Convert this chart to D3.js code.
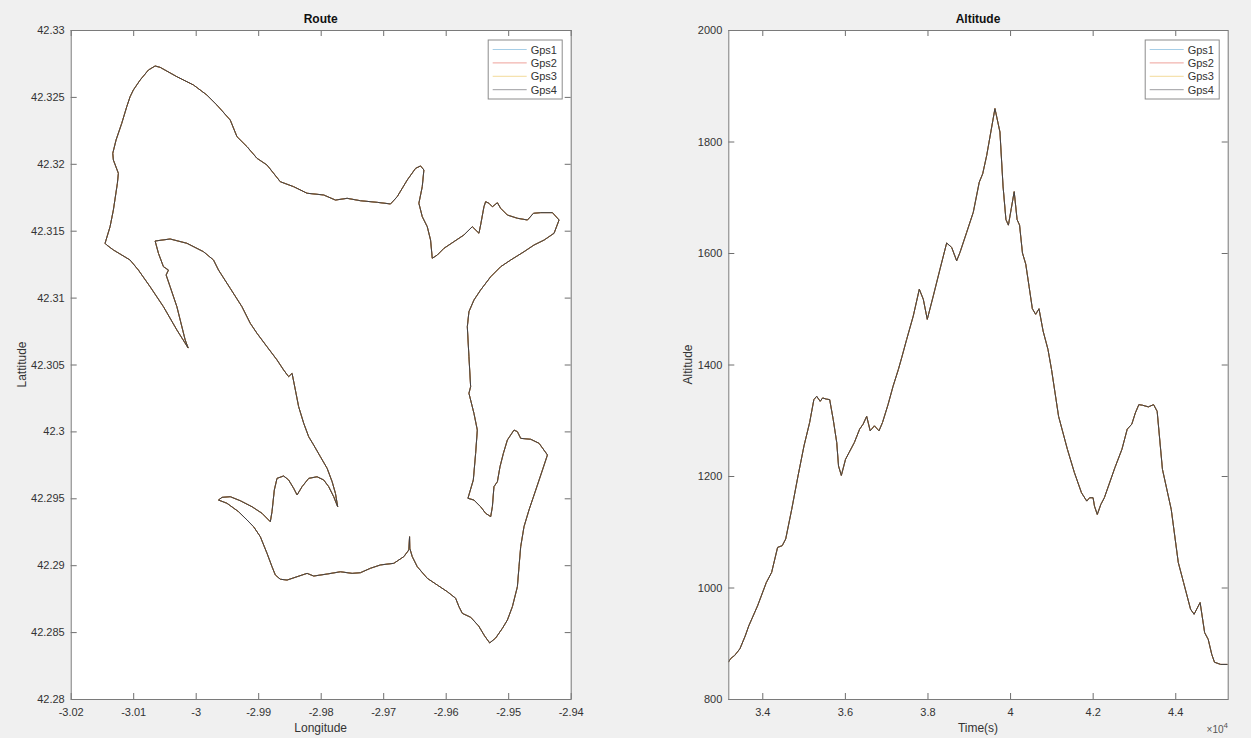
<!DOCTYPE html>
<html>
<head>
<meta charset="utf-8">
<script src="https://cdn.jsdelivr.net/npm/d3@7"></script>
<style>
  body { margin: 0; background: #f0f0f0; }
  svg { display: block; font-family: "Liberation Sans", Arial, Helvetica, sans-serif; }
</style>
</head>
<body>
<svg id="fig" width="1251" height="738"></svg>
<script>
// route; the four receivers sit on top of each other at this scale
var routeLon = [
  -3.00120, -3.00301, -3.00516, -3.00729, -3.00917, -3.01050, -3.01317, -3.01423, -3.01450, -3.01370,
  -3.01317, -3.01253, -3.01237, -3.01317, -3.01327, -3.01274, -3.01183, -3.01103, -3.01050, -3.00997,
  -3.00889, -3.00756, -3.00649, -3.00569, -3.00301, -3.00035, -2.99821, -2.99660, -2.99447, -2.99340,
  -2.99179, -2.99019, -2.98859, -2.98646, -2.98433, -2.98218, -2.97952, -2.97764, -2.97577, -2.97364,
  -2.97096, -2.96883, -2.96776, -2.96615, -2.96482, -2.96402, -2.96349, -2.96375, -2.96429, -2.96375,
  -2.96295, -2.96242, -2.96215, -2.96135, -2.96029, -2.95869, -2.95708, -2.95574, -2.95468, -2.95441,
  -2.95388, -2.95361, -2.95308, -2.95253, -2.95173, -2.95120, -2.95013, -2.94853, -2.94692, -2.94596,
  -2.94479, -2.94292, -2.94186, -2.94266, -2.94426, -2.94587, -2.94747, -2.94960, -2.95120, -2.95280,
  -2.95441, -2.95548, -2.95628, -2.95654, -2.95628, -2.95601, -2.95628, -2.95548, -2.95494, -2.95521,
  -2.95558, -2.95644, -2.95548, -2.95441, -2.95361, -2.95280, -2.95253, -2.95228, -2.95173, -2.95131,
  -2.95077, -2.95013, -2.94907, -2.94853, -2.94800, -2.94639, -2.94506, -2.94372, -2.94452, -2.94559,
  -2.94667, -2.94747, -2.94800, -2.94827, -2.94853, -2.94933, -2.95013, -2.95093, -2.95200, -2.95296,
  -2.95377, -2.95473, -2.95601, -2.95734, -2.95788, -2.95841, -2.95974, -2.96135, -2.96295, -2.96455,
  -2.96535, -2.96574, -2.96578, -2.96590, -2.96670, -2.96830, -2.97043, -2.97204, -2.97364, -2.97497,
  -2.97684, -2.97897, -2.98112, -2.98218, -2.98378, -2.98538, -2.98646, -2.98726, -2.98779, -2.98859,
  -2.98966, -2.99074, -2.99179, -2.99314, -2.99500, -2.99635, -2.99580, -2.99447, -2.99287, -2.99099,
  -2.98939, -2.98806, -2.98779, -2.98742, -2.98699, -2.98593, -2.98513, -2.98433, -2.98378, -2.98298,
  -2.98192, -2.98058, -2.97952, -2.97872, -2.97792, -2.97728, -2.97764, -2.97817, -2.97897, -2.98005,
  -2.98112, -2.98192, -2.98272, -2.98353, -2.98405, -2.98458, -2.98513, -2.98593, -2.98699, -2.98859,
  -2.99019, -2.99127, -2.99260, -2.99447, -2.99635, -2.99715, -2.99875, -3.00141, -3.00409, -3.00649,
  -3.00596, -3.00516, -3.00436, -3.00473, -3.00409, -3.00301, -3.00168, -3.00120
];
var routeLat = [
  42.30623, 42.30758, 42.30932, 42.31081, 42.31206, 42.31281, 42.31356, 42.31393, 42.31406, 42.31530,
  42.31655, 42.31854, 42.31929, 42.32028, 42.32078, 42.32178, 42.32303, 42.32427, 42.32501, 42.32552,
  42.32626, 42.32701, 42.32731, 42.32721, 42.32651, 42.32589, 42.32514, 42.32439, 42.32327, 42.32203,
  42.32128, 42.32041, 42.31991, 42.31866, 42.31829, 42.31780, 42.31767, 42.31729, 42.31742, 42.31724,
  42.31712, 42.31700, 42.31754, 42.31879, 42.31966, 42.31984, 42.31954, 42.31829, 42.31705, 42.31605,
  42.31530, 42.31430, 42.31294, 42.31318, 42.31368, 42.31418, 42.31468, 42.31530, 42.31481, 42.31543,
  42.31679, 42.31717, 42.31705, 42.31679, 42.31709, 42.31667, 42.31617, 42.31593, 42.31580, 42.31630,
  42.31635, 42.31635, 42.31580, 42.31481, 42.31430, 42.31393, 42.31343, 42.31281, 42.31231, 42.31156,
  42.31057, 42.30982, 42.30895, 42.30782, 42.30558, 42.30334, 42.30285, 42.30135, 42.30010, 42.29836,
  42.29637, 42.29500, 42.29487, 42.29437, 42.29388, 42.29363, 42.29437, 42.29587, 42.29624, 42.29736,
  42.29836, 42.29936, 42.30010, 42.29998, 42.29948, 42.29941, 42.29911, 42.29824, 42.29711, 42.29562,
  42.29413, 42.29288, 42.29138, 42.28989, 42.28839, 42.28690, 42.28590, 42.28528, 42.28456, 42.28419,
  42.28471, 42.28546, 42.28611, 42.28640, 42.28690, 42.28753, 42.28802, 42.28852, 42.28902, 42.28989,
  42.29064, 42.29126, 42.29213, 42.29114, 42.29064, 42.29014, 42.29002, 42.28977, 42.28944, 42.28939,
  42.28951, 42.28934, 42.28919, 42.28939, 42.28914, 42.28889, 42.28895, 42.28927, 42.28989, 42.29089,
  42.29213, 42.29288, 42.29338, 42.29400, 42.29463, 42.29487, 42.29507, 42.29512, 42.29482, 42.29437,
  42.29388, 42.29325, 42.29400, 42.29562, 42.29649, 42.29667, 42.29637, 42.29575, 42.29525, 42.29587,
  42.29649, 42.29661, 42.29637, 42.29587, 42.29512, 42.29437, 42.29537, 42.29624, 42.29724, 42.29811,
  42.29898, 42.29960, 42.30061, 42.30185, 42.30309, 42.30434, 42.30409, 42.30459, 42.30534, 42.30633,
  42.30733, 42.30808, 42.30932, 42.31069, 42.31206, 42.31281, 42.31343, 42.31406, 42.31438, 42.31423,
  42.31331, 42.31231, 42.31206, 42.31169, 42.31081, 42.30932, 42.30683, 42.30623
];

// altitude profile (time in s, altitude in m)
var altTime = [
  33177, 33240, 33330, 33458, 33586, 33672, 33885, 34098, 34226, 34371,
  34482, 34567, 34712, 34865, 35010, 35147, 35249, 35317, 35402, 35462,
  35547, 35632, 35718, 35803, 35846, 35914, 36016, 36101, 36229, 36357,
  36442, 36528, 36613, 36715, 36826, 36911, 37045, 37167, 37295, 37375,
  37496, 37656, 37802, 37899, 37995, 38141, 38303, 38465, 38586, 38707,
  38787, 38949, 39109, 39254, 39337, 39434, 39634, 39755, 39830, 39900,
  39960, 40030, 40100, 40170, 40230, 40300, 40380, 40460, 40540, 40620,
  40700, 40800, 40918, 41004, 41175, 41388, 41558, 41729, 41857, 41925,
  42010, 42044, 42112, 42198, 42283, 42539, 42709, 42837, 42948, 43033,
  43118, 43203, 43349, 43476, 43562, 43690, 43903, 44073, 44201, 44371,
  44456, 44602, 44712, 44798, 44884, 44950, 45100, 45270
];
var altValue = [
  866, 873, 878, 890, 913, 931, 967, 1009, 1027, 1072,
  1075, 1087, 1140, 1200, 1254, 1296, 1337, 1343, 1334, 1340,
  1338, 1337, 1301, 1260, 1218, 1201, 1230, 1242, 1260, 1284,
  1293, 1307, 1281, 1290, 1281, 1296, 1328, 1361, 1391, 1412,
  1445, 1487, 1535, 1517, 1481, 1523, 1571, 1618, 1610, 1586,
  1601, 1637, 1673, 1727, 1742, 1775, 1859, 1817, 1720, 1660,
  1650, 1680, 1710, 1660, 1650, 1600, 1580, 1540, 1500, 1490,
  1500, 1460, 1427, 1391, 1307, 1248, 1206, 1170, 1155, 1161,
  1161, 1146, 1131, 1149, 1161, 1215, 1248, 1284, 1293, 1313,
  1328, 1327, 1324, 1328, 1316, 1212, 1140, 1045, 1009, 961,
  952, 973, 919, 907, 880, 866, 862, 862
];

var gpsNames = ["Gps1", "Gps2", "Gps3", "Gps4"];
var gpsColors = ["#4f9fd0", "#e0453a", "#e8b83a", "#3e3e46"];

var lonTicks = [-3.02, -3.01, -3, -2.99, -2.98, -2.97, -2.96, -2.95, -2.94];
var latTicks = [42.28, 42.285, 42.29, 42.295, 42.3, 42.305, 42.31, 42.315, 42.32, 42.325, 42.33];
var timeTicks = [34000, 36000, 38000, 40000, 42000, 44000];
var altTicks = [800, 1000, 1200, 1400, 1600, 1800, 2000];

var svg = d3.select("#fig");
var plotTop = 30, plotBottom = 699;

// one MATLAB style axes: white box, inward ticks on all four sides
function drawAxes(id, x, y, xTicks, yTicks, xFmt, yFmt) {
  var x0 = x.range()[0], x1 = x.range()[1];
  var g = svg.append("g");

  g.append("rect")
    .attr("x", x0).attr("y", plotTop)
    .attr("width", x1 - x0).attr("height", plotBottom - plotTop)
    .attr("fill", "#fff");

  g.append("clipPath").attr("id", id)
    .append("rect")
    .attr("x", x0).attr("y", plotTop)
    .attr("width", x1 - x0).attr("height", plotBottom - plotTop);

  var axes = [
    { ax: d3.axisBottom(x).tickValues(xTicks).tickFormat(xFmt), tr: [0, plotBottom], pad: 9 },
    { ax: d3.axisTop(x).tickValues(xTicks).tickFormat(""), tr: [0, plotTop], pad: 9 },
    { ax: d3.axisLeft(y).tickValues(yTicks).tickFormat(yFmt), tr: [x0, 0], pad: 6 },
    { ax: d3.axisRight(y).tickValues(yTicks).tickFormat(""), tr: [x1, 0], pad: 6 }
  ];
  axes.forEach(function(a) {
    var ag = g.append("g")
      .attr("transform", "translate(" + a.tr[0] + "," + a.tr[1] + ")")
      .call(a.ax.tickSizeInner(-6).tickSizeOuter(0).tickPadding(a.pad));
    ag.select(".domain").remove();
    ag.selectAll(".tick line").attr("stroke", "#6e6e6e");
    ag.selectAll(".tick text")
      .style("fill", "#333333")
      .style("font-size", "11px")
      .style("font-family", "'Liberation Sans', Arial, sans-serif");
  });
  return g;
}

function drawBox(g, x) {
  var x0 = x.range()[0], x1 = x.range()[1];
  g.append("rect")
    .attr("x", x0 + 0.5).attr("y", plotTop + 0.5)
    .attr("width", x1 - x0).attr("height", plotBottom - plotTop)
    .attr("fill", "none")
    .attr("stroke", "#7a7a7a")
    .attr("stroke-width", 1);
}

function drawLegend(g, x) {
  var right = x.range()[1] - 9;
  var lw = 74, lh = 59, ly = 39.5;
  var lx = right - lw;
  var lg = g.append("g");
  lg.append("rect")
    .attr("x", lx + 0.5).attr("y", ly + 0.5)
    .attr("width", lw).attr("height", lh)
    .attr("fill", "#fff").attr("stroke", "#8c8c8c");
  gpsNames.forEach(function(name, i) {
    var yy = ly + 10 + i * 13.4;
    lg.append("line")
      .attr("x1", lx + 5).attr("x2", lx + 39)
      .attr("y1", yy).attr("y2", yy)
      .attr("stroke", gpsColors[i]).attr("stroke-width", 1).attr("opacity", 0.5);
    lg.append("text")
      .attr("x", lx + 43).attr("y", yy + 4)
      .style("fill", "#333333").style("font-size", "11px")
      .text(name);
  });
}

function drawTitle(x, txt) {
  svg.append("text")
    .attr("x", (x.range()[0] + x.range()[1]) / 2).attr("y", plotTop - 7)
    .attr("text-anchor", "middle")
    .attr("font-weight", "bold").style("fill", "#111")
    .style("font-size", "12px")
    .text(txt);
}

function drawXLabel(x, txt) {
  svg.append("text")
    .attr("x", (x.range()[0] + x.range()[1]) / 2).attr("y", 732)
    .attr("text-anchor", "middle").style("fill", "#333")
    .style("font-size", "12px")
    .text(txt);
}

function drawYLabel(cx, txt) {
  var cy = (plotTop + plotBottom) / 2;
  svg.append("text")
    .attr("transform", "translate(" + cx + "," + cy + ") rotate(-90)")
    .attr("text-anchor", "middle").attr("dy", "0.35em").style("fill", "#333")
    .style("font-size", "12px")
    .text(txt);
}

// ---- Route ----
var xLon = d3.scaleLinear().domain([-3.02, -2.94]).range([70.7, 570.7]);
var yLat = d3.scaleLinear().domain([42.28, 42.33]).range([plotBottom, plotTop]);
var gRoute = drawAxes("clipRoute", xLon, yLat, lonTicks, latTicks,
  function(d) { return String(d); }, function(d) { return String(d); });

var routeLine = d3.line()
  .x(function(d) { return xLon(d[0]); })
  .y(function(d) { return yLat(d[1]); });
var routePts = d3.zip(routeLon, routeLat);

gpsNames.forEach(function(name, i) {
  gRoute.append("path")
    .datum(routePts)
    .attr("clip-path", "url(#clipRoute)")
    .attr("d", routeLine)
    .attr("fill", "none")
    .attr("stroke", gpsColors[i])
    .attr("stroke-width", 1)
    .attr("stroke-linejoin", "round");
});
drawBox(gRoute, xLon);
drawLegend(gRoute, xLon);
drawTitle(xLon, "Route");
drawXLabel(xLon, "Longitude");
drawYLabel(22, "Lattitude");

// ---- Altitude ----
var xTime = d3.scaleLinear().domain(d3.extent(altTime)).range([728.3, 1227.7]);
var yAlt = d3.scaleLinear().domain([800, 2000]).range([plotBottom, plotTop]);
var gAlt = drawAxes("clipAlt", xTime, yAlt, timeTicks, altTicks,
  function(d) { return String(d / 10000); }, function(d) { return String(d); });

var altLine = d3.line()
  .x(function(d) { return xTime(d[0]); })
  .y(function(d) { return yAlt(d[1]); });
var altPts = d3.zip(altTime, altValue);

gpsNames.forEach(function(name, i) {
  gAlt.append("path")
    .datum(altPts)
    .attr("clip-path", "url(#clipAlt)")
    .attr("d", altLine)
    .attr("fill", "none")
    .attr("stroke", gpsColors[i])
    .attr("stroke-width", 1)
    .attr("stroke-linejoin", "round");
});
drawBox(gAlt, xTime);
drawLegend(gAlt, xTime);
drawTitle(xTime, "Altitude");
drawXLabel(xTime, "Time(s)");
drawYLabel(688, "Altitude");

// exponent label under the time axis
var expo = svg.append("text")
  .attr("x", 1228).attr("y", 733)
  .attr("text-anchor", "end").style("fill", "#555")
  .style("font-size", "10px");
expo.append("tspan").text("\u00d710");
expo.append("tspan").attr("dy", -5).style("font-size", "8px").text("4");
</script>
</body>
</html>
